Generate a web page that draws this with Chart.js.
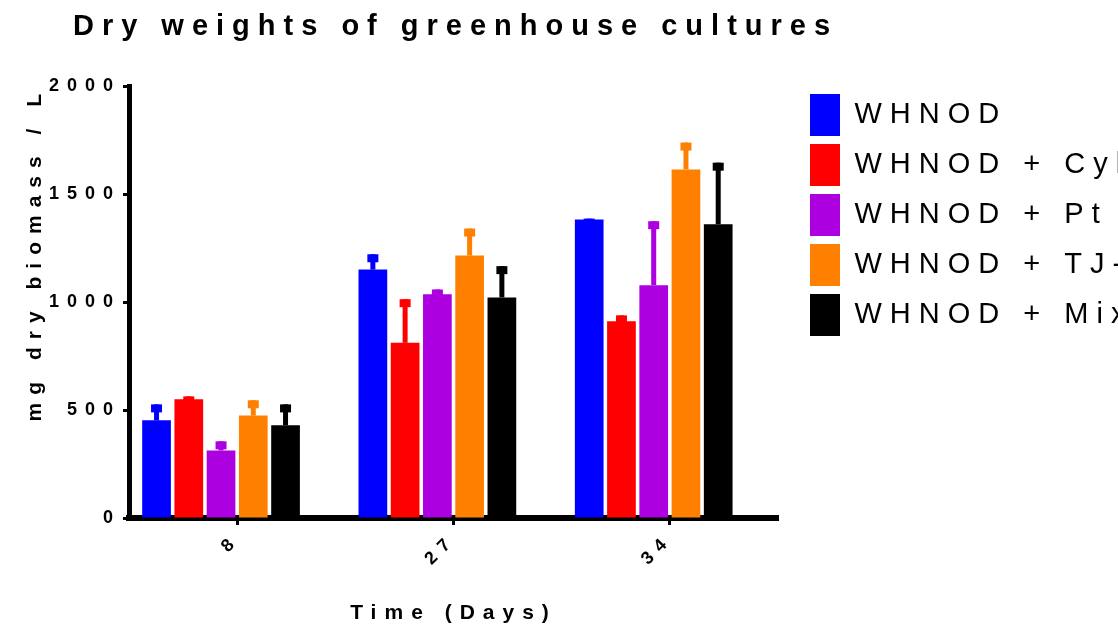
<!DOCTYPE html>
<html>
<head>
<meta charset="utf-8">
<script src="https://cdn.jsdelivr.net/npm/chart.js@4/dist/chart.umd.min.js"></script>
<style>
    body { margin: 0; background: #fff; }
    #wrap { width: 1118px; height: 633px; }
</style>
</head>
<body>
<div id="wrap"><canvas id="grafico"></canvas></div>
<script>
// Dati (mg dry biomass / L), errore solo verso l'alto
const titolo = 'Dry weights of greenhouse cultures';
const giorni = ['8', '27', '34'];
const serie = ['WHNOD', 'WHNOD + Cyl', 'WHNOD + Pt', 'WHNOD + TJ-1', 'WHNOD + Mix'];
const colori = ['#0000FF', '#FF0000', '#AD00E0', '#FF8000', '#000000'];

const whnod = [452, 1150, 1382];
const whnodErr = [74, 71, 4];
const cyl = [550, 811, 911];
const cylErr = [13, 202, 27];
const pt = [313, 1036, 1078];
const ptErr = [42, 22, 296];
const tj1 = [474, 1215, 1614];
const tj1Err = [71, 125, 124];
const mix = [429, 1021, 1360];
const mixErr = [97, 145, 285];

const yTicks = [0, 500, 1000, 1500, 2000];

const valori = [whnod, cyl, pt, tj1, mix];
const errori = [whnodErr, cylErr, ptErr, tj1Err, mixErr];

const FONT = 'Liberation Sans, Arial, sans-serif';

// spaziatura larga fra le lettere, come nell'originale
const spaziatura = {
    id: 'spaziatura',
    beforeUpdate(c) { c.ctx.letterSpacing = '8px'; },
    beforeLayout(c) { c.ctx.letterSpacing = '8px'; },
    beforeDraw(c) { c.ctx.letterSpacing = '8px'; }
};

// titolo centrato sull'area del grafico (non sulla tela intera)
const titoloCentrato = {
    id: 'titoloCentrato',
    afterDraw(chart) {
        const c = chart.ctx;
        const area = chart.chartArea;
        c.save();
        c.letterSpacing = '8px';
        c.font = 'bold 29px ' + FONT;
        c.fillStyle = '#000';
        c.textAlign = 'center';
        c.textBaseline = 'middle';
        c.fillText(titolo, (area.left + area.right) / 2 + 2, 27);
        c.restore();
    }
};

// barre d'errore (solo lato superiore, con cappuccio)
const barreErrore = {
    id: 'barreErrore',
    afterDatasetsDraw(chart) {
        const c = chart.ctx;
        const y = chart.scales.y;
        c.save();
        errori.forEach((err, i) => {
            const meta = chart.getDatasetMeta(i);
            meta.data.forEach((bar, j) => {
                const top = y.getPixelForValue(valori[i][j] + err[j]);
                c.fillStyle = colori[i];
                c.fillRect(bar.x - 2.5, top, 5, bar.y - top);
                c.fillRect(bar.x - 5.5, top, 11, 8);
            });
        });
        c.restore();
    }
};

const datasets = serie.map((nome, i) => ({
    label: nome,
    data: valori[i],
    backgroundColor: colori[i],
    borderWidth: 0
}));
// serie vuota: sposta i gruppi a sinistra del tick, come in Prism
datasets.push({ label: '', data: [null, null, null], backgroundColor: 'rgba(0,0,0,0)', borderWidth: 0 });

const ctx = document.getElementById('grafico').getContext('2d');
new Chart(ctx, {
    type: 'bar',
    data: { labels: giorni, datasets: datasets },
    plugins: [spaziatura, barreErrore, titoloCentrato],
    options: {
        responsive: true,
        maintainAspectRatio: false,
        animation: false,
        datasets: {
            bar: { categoryPercentage: 0.8945, barPercentage: 0.89 }
        },
        layout: { padding: { top: 86 } },
        plugins: {
            tooltip: { enabled: false },
            title: { display: false },
            legend: {
                position: 'right',
                align: 'start',
                maxWidth: 316,
                labels: {
                    boxWidth: 30,
                    boxHeight: 42,
                    padding: 8,
                    color: '#000',
                    font: { family: FONT, size: 29 },
                    filter: item => item.datasetIndex < serie.length
                }
            }
        },
        scales: {
            x: {
                z: 1,
                offset: true,
                border: { color: '#000', width: 6 },
                grid: { offset: false, drawOnChartArea: false, tickLength: 7, tickWidth: 3, tickColor: '#000' },
                ticks: {
                    minRotation: 45,
                    maxRotation: 45,
                    color: '#000',
                    padding: 4,
                    font: { family: FONT, size: 18, weight: 'bold' }
                },
                title: {
                    display: true,
                    text: 'Time (Days)',
                    color: '#000',
                    font: { family: FONT, size: 21, weight: 'bold' },
                    padding: { top: 0, bottom: 7 }
                },
                afterFit(s) { s.height = 115; }
            },
            y: {
                z: 1,
                min: 0,
                max: 2000,
                afterBuildTicks(s) { s.ticks = yTicks.map(v => ({ value: v })); },
                border: { color: '#000', width: 5 },
                grid: { drawOnChartArea: false, tickLength: 6, tickWidth: 3, tickColor: '#000' },
                ticks: {
                    color: '#000',
                    padding: 2,
                    font: { family: FONT, size: 18, weight: 'bold' },
                    callback: v => String(v)
                },
                title: {
                    display: true,
                    text: 'mg dry biomass / L',
                    align: 'end',
                    color: '#000',
                    font: { family: FONT, size: 21, weight: 'bold' },
                    padding: { top: 23, bottom: 0 }
                },
                afterFit(s) { s.width = 129; }
            },
            yR: {
                position: 'right',
                grid: { display: false },
                ticks: { display: false },
                border: { display: false },
                afterFit(s) { s.width = 24; }
            }
        }
    }
});
</script>
</body>
</html>
